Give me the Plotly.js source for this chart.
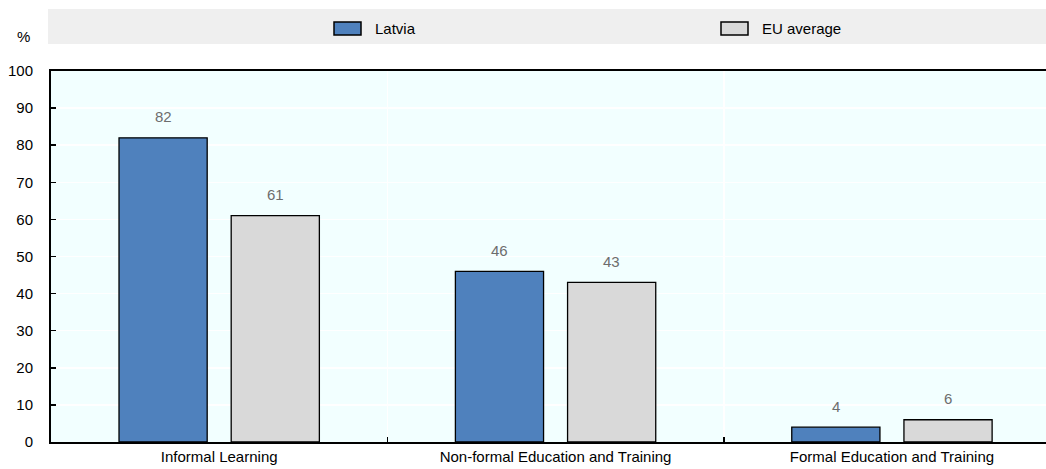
<!DOCTYPE html>
<html>
<head>
<meta charset="utf-8">
<script src="https://cdn.plot.ly/plotly-3.0.1.min.js"></script>
<style>
  html, body { margin: 0; padding: 0; background: #fff; }
  #chart { width: 1046px; height: 469px; }
</style>
</head>
<body>
<div id="chart"></div>
<script>
// Participation in learning, by type (%)
const categories = ["Informal Learning", "Non-formal Education and Training", "Formal Education and Training"];
const seriesNames = ["Latvia", "EU average"];
const latviaValues = [82, 46, 4];
const euValues = [61, 43, 6];
const yTicks = [0, 10, 20, 30, 40, 50, 60, 70, 80, 90, 100];

const FONT = "'Liberation Sans', Arial, sans-serif";
const FS = 15;
const colors = ["#4f81bd", "#d9d9d9"];

// Plot area in pixels (used to place the legend band and labels)
const W = 1046, H = 469;
const M = { l: 51, r: 0, t: 71, b: 27 };
const plotW = W - M.l - M.r, plotH = H - M.t - M.b;
const px = x => (x - M.l) / plotW;
const py = y => (H - M.b - y) / plotH;

const allValues = [latviaValues, euValues];
const traces = allValues.map((vals, i) => ({
  type: "bar",
  name: seriesNames[i],
  x: categories,
  y: vals,
  marker: { color: colors[i], line: { color: "#000", width: 1.3 } },
  hoverinfo: "x+y+name"
}));

// Value labels above each bar
const groupOffset = 1 / 6;
const annotations = [];
allValues.forEach((vals, s) => {
  vals.forEach((v, c) => {
    annotations.push({
      xref: "x", yref: "y",
      x: c + (s === 0 ? -groupOffset : groupOffset),
      y: v,
      text: String(v),
      showarrow: false,
      yanchor: "middle",
      yshift: 21,
      font: { family: FONT, size: FS, color: "#6d6d6d" }
    });
  });
});

// Unit label
annotations.push({
  xref: "paper", yref: "paper",
  x: px(23), y: py(36),
  text: "%", showarrow: false,
  xanchor: "center", yanchor: "middle",
  font: { family: FONT, size: FS, color: "#000" }
});

// Legend band with swatches
const shapes = [{
  type: "rect", xref: "paper", yref: "paper", layer: "below",
  x0: px(48), x1: px(1046), y0: py(44), y1: py(9),
  fillcolor: "#efefef", line: { width: 0 }
}];
const legendX = [334, 721];
seriesNames.forEach((name, i) => {
  shapes.push({
    type: "rect", xref: "paper", yref: "paper",
    x0: px(legendX[i]), x1: px(legendX[i] + 27), y0: py(35), y1: py(22),
    fillcolor: colors[i], line: { color: "#000", width: 1.5 }
  });
  annotations.push({
    xref: "paper", yref: "paper",
    x: px(legendX[i] + 39), y: py(28.5),
    text: name, showarrow: false,
    xanchor: "left", yanchor: "middle",
    font: { family: FONT, size: FS, color: "#000" }
  });
});

const layout = {
  width: W, height: H,
  margin: M,
  paper_bgcolor: "#ffffff",
  plot_bgcolor: "#f2ffff",
  barmode: "group",
  bargap: 0.333,
  bargroupgap: 0.214,
  showlegend: false,
  font: { family: FONT, size: FS, color: "#000" },
  xaxis: {
    type: "category",
    range: [-0.5, 2.458],
    tickson: "boundaries",
    ticks: "inside", ticklen: 5, tickwidth: 1.5, tickcolor: "#000",
    showgrid: true, gridcolor: "#ffffff", gridwidth: 1.5,
    showline: true, linecolor: "#000", linewidth: 2, mirror: true,
    tickfont: { family: FONT, size: FS, color: "#000" },
    fixedrange: true
  },
  yaxis: {
    range: [0, 100],
    tickvals: yTicks,
    ticktext: yTicks.map(String),
    ticks: "inside", ticklen: 5, tickwidth: 1.5, tickcolor: "#000",
    showgrid: true, gridcolor: "#ffffff", gridwidth: 1.5,
    zeroline: false,
    showline: true, linecolor: "#000", linewidth: 2,
    ticklabelstandoff: 13,
    tickfont: { family: FONT, size: FS, color: "#000" },
    fixedrange: true
  },
  shapes: shapes,
  annotations: annotations
};

Plotly.newPlot("chart", traces, layout, { displayModeBar: false, staticPlot: true });
</script>
</body>
</html>
